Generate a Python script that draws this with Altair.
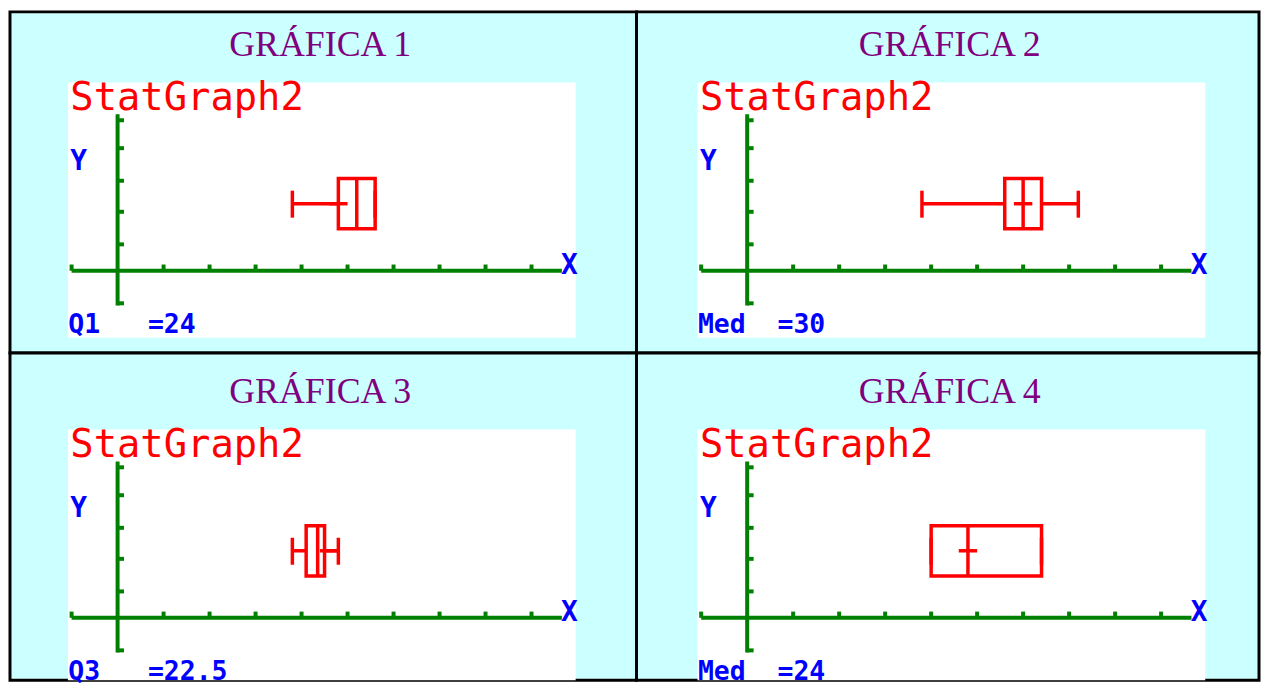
import altair as alt
import pandas as pd

# ---------------- data ----------------
titles = ["GRÁFICA 1", "GRÁFICA 2", "GRÁFICA 3", "GRÁFICA 4"]
screen_label = "StatGraph2"
readouts = ["Q1\u00a0\u00a0\u00a0=24", "Med\u00a0\u00a0=30", "Q3\u00a0\u00a0\u00a0=22.5", "Med\u00a0\u00a0=24"]
mins = [19, 19, 19, 20]
q1s = [24, 28, 20.5, 20]
medians = [26, 30, 21.75, 24]
q3s = [28, 32, 22.5, 32]
maxs = [28, 36, 24, 32]
means = [24, 30, 23, 24]
x_ticks = [-5, 5, 10, 15, 20, 25, 30, 35, 40, 45]
y_ticks = [-1.05, 0.85, 1.9, 2.9, 3.95, 4.85]

# ---------------- layout (pixels) ----------------
PX_PER_X = 9.25
PX_PER_Y = 31.2
COL_W = [630, 626]
ROW_H = [343, 329]
ORIGIN_X = [108.2, 111.3]
ORIGIN_Y = [260.3, 266.3]
TITLE_X = [312, 315]

RED = "#FF0000"
GREEN = "#008000"
BLUE = "#0000FF"
PURPLE = "#800080"
CYAN_BG = "#CCFFFF"
MONO = "DejaVu Sans Mono"


def cell(i):
    r, c = divmod(i, 2)
    W, H = COL_W[c], ROW_H[r]
    ox, oy = ORIGIN_X[c], ORIGIN_Y[r]
    xs = alt.Scale(domain=[-ox / PX_PER_X, (W - ox) / PX_PER_X], nice=False, zero=False)
    ys = alt.Scale(domain=[-(H - oy) / PX_PER_Y, oy / PX_PER_Y], nice=False, zero=False)

    def X(f):
        return alt.X(f, type="quantitative", scale=xs, axis=None)

    def Y(f):
        return alt.Y(f, type="quantitative", scale=ys, axis=None)

    # calculator screen
    screen_df = pd.DataFrame({"x0": [-5.4], "x1": [49.8], "y0": [-2.16], "y1": [6.07]})
    screen = alt.Chart(screen_df).mark_rect(color="white", clip=True).encode(
        x=X("x0"), x2="x1", y=Y("y0"), y2="y1")

    # axes
    xa_df = pd.DataFrame({"x0": [-5], "x1": [48.3], "y": [0]})
    xaxis = alt.Chart(xa_df).mark_rule(color=GREEN, strokeWidth=4).encode(
        x=X("x0"), x2="x1", y=Y("y"))
    ya_df = pd.DataFrame({"x": [0], "y0": [-1.12], "y1": [5.04]})
    yaxis = alt.Chart(ya_df).mark_rule(color=GREEN, strokeWidth=4).encode(
        x=X("x"), y=Y("y0"), y2="y1")
    xt_df = pd.DataFrame({"t": x_ticks})
    xt_df["y0"] = 0
    xt_df["y1"] = 0.2
    xt = alt.Chart(xt_df).mark_rule(color=GREEN, strokeWidth=4).encode(
        x=X("t"), y=Y("y0"), y2="y1")
    yt_df = pd.DataFrame({"t": y_ticks})
    yt_df["x0"] = 0
    yt_df["x1"] = 0.7
    yt = alt.Chart(yt_df).mark_rule(color=GREEN, strokeWidth=4).encode(
        y=Y("t"), x=X("x0"), x2="x1")

    # box plot
    bp = pd.DataFrame({
        "mn": [mins[i]], "q1": [q1s[i]], "med": [medians[i]],
        "q3": [q3s[i]], "mx": [maxs[i]], "mean": [means[i]],
    })
    bp["lo"] = 1.35
    bp["hi"] = 2.97
    bp["mid"] = 2.16
    bp["clo"] = 1.71
    bp["chi"] = 2.58
    base = alt.Chart(bp)
    rs = dict(color=RED, strokeWidth=3.5)
    box = base.mark_rect(filled=False, stroke=RED, strokeWidth=3.5).encode(
        x=X("q1"), x2="q3", y=Y("lo"), y2="hi")
    med = base.mark_rule(**rs).encode(x=X("med"), y=Y("lo"), y2="hi")
    wl = base.mark_rule(**rs).encode(x=X("mn"), x2="q1", y=Y("mid"))
    wr = base.mark_rule(**rs).encode(x=X("q3"), x2="mx", y=Y("mid"))
    cl = base.mark_rule(**rs).encode(x=X("mn"), y=Y("clo"), y2="chi")
    cr = base.mark_rule(**rs).encode(x=X("mx"), y=Y("clo"), y2="chi")
    mp = base.transform_calculate(m0="datum.mean - 1", m1="datum.mean + 1").mark_rule(**rs).encode(
        x=X("m0"), x2="m1", y=Y("mid"))

    # texts
    tdf = pd.DataFrame({"title": [titles[i]], "label": [screen_label], "readout": [readouts[i]],
                        "ylab": ["Y"], "xlab": ["X"]})
    tb = alt.Chart(tdf)
    ty = oy - 216
    t_main = tb.mark_text(font="Liberation Serif", fontSize=36, color=PURPLE,
                          align="center", baseline="alphabetic").encode(
        x=alt.value(TITLE_X[c]), y=alt.value(ty), text="title:N")
    sg = tb.mark_text(font=MONO, fontSize=39, color=RED, align="left",
                      baseline="alphabetic").encode(
        x=alt.value(ox - 47.5), y=alt.value(oy - 161.3), text="label:N")
    ylab = tb.mark_text(font=MONO, fontSize=28, fontWeight="bold", color=BLUE, align="left",
                        baseline="alphabetic").encode(
        x=alt.value(ox - 47.5), y=alt.value(oy - 101), text="ylab:N")
    xlab = tb.mark_text(font=MONO, fontSize=28, fontWeight="bold", color=BLUE, align="left",
                        baseline="alphabetic").encode(
        x=alt.value(ox + 446), y=alt.value(oy + 3.4), text="xlab:N")
    ro = tb.mark_text(font=MONO, fontSize=26.6, fontWeight="bold", color=BLUE, align="left",
                      baseline="alphabetic").encode(
        x=alt.value(ox - 49.5), y=alt.value(oy + 62.5), text="readout:N")

    return alt.layer(screen, xaxis, yaxis, xt, yt, box, med, wl, wr, cl, cr, mp,
                     t_main, sg, ylab, xlab, ro).properties(width=W, height=H)


chart = alt.concat(cell(0), cell(1), cell(2), cell(3), columns=2, spacing=0,
                   bounds="flush").properties(
    padding=0
).configure_view(fill=CYAN_BG, stroke="black", strokeWidth=3)

chart.save("out.html", embed_options={"renderer": "svg", "actions": False})
